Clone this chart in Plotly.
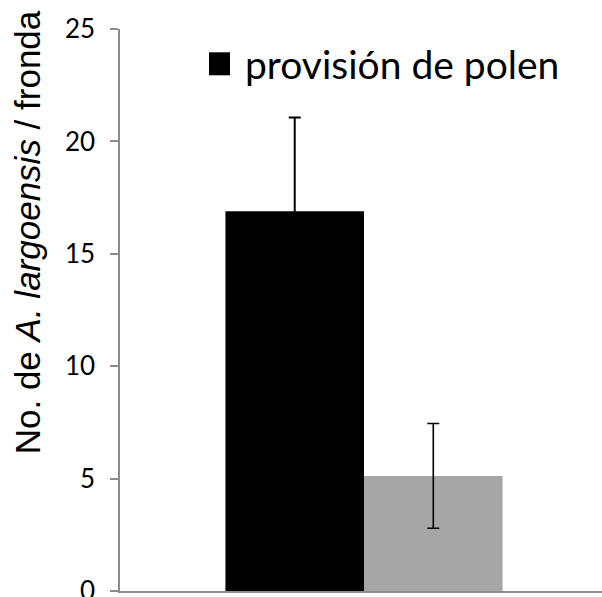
import plotly.graph_objects as go

# Mean number of A. largoensis per frond, with error bars
categories = [""]
pollen_mean = [16.89]
pollen_err = [4.17]
control_mean = [5.12]
control_err = [2.33]
y_ticks = [0, 5, 10, 15, 20, 25]
legend_label = "provisión de polen"
y_title = "No. de <i>A. largoensis</i> / fronda"

W, H = 602, 597
ML, MR, MT, MB = 120, 0, 28.7, 6.3
PW, PH = W - ML - MR, H - MT - MB

axis_grey = "#8c8c8c"
shift = 3 / PW  # category centre sits a little right of the plot centre

fig = go.Figure()
fig.add_trace(go.Bar(
    x=categories, y=pollen_mean, name=legend_label,
    marker=dict(color="#000000", line=dict(width=0)),
    error_y=dict(type="data", array=pollen_err, visible=True,
                 color="#000000", thickness=2, width=6),
    showlegend=False,
))
fig.add_trace(go.Bar(
    x=categories, y=control_mean, name="",
    marker=dict(color="#a6a6a6", line=dict(width=0)),
    error_y=dict(type="data", array=control_err, visible=True,
                 color="#000000", thickness=1.6, width=6),
    showlegend=False,
))

fig.update_layout(
    width=W, height=H,
    margin=dict(l=ML, r=MR, t=MT, b=MB, pad=0),
    paper_bgcolor="white", plot_bgcolor="white",
    barmode="group", bargap=0.425, bargroupgap=0,
    font=dict(family="Lato, Open Sans, sans-serif", color="#000000"),
    xaxis=dict(
        type="category", range=[-0.5 - shift, 0.5 - shift],
        showline=True, linecolor=axis_grey, linewidth=1.5,
        showticklabels=False, ticks="", showgrid=False, zeroline=False,
        automargin=False,
    ),
    yaxis=dict(
        range=[0, 25], tickvals=y_ticks, ticktext=[str(v) for v in y_ticks],
        showline=True, linecolor=axis_grey, linewidth=1.5,
        ticks="outside", ticklen=8, tickcolor=axis_grey, tickwidth=1.5,
        tickfont=dict(size=26, family="Lato, sans-serif", color="#000000"),
        ticklabelstandoff=10, ticklabeloverflow="allow",
        showgrid=False, zeroline=False, automargin=False,
    ),
)

# Legend swatch and label
sq_x0, sq_x1 = 209, 230
sq_y0, sq_y1 = 52, 75
fig.add_shape(
    type="rect", xref="paper", yref="paper",
    x0=(sq_x0 - ML) / PW, x1=(sq_x1 - ML) / PW,
    y0=(H - MB - sq_y1) / PH, y1=(H - MB - sq_y0) / PH,
    fillcolor="#000000", line=dict(width=0),
)
fig.add_annotation(
    text=legend_label, xref="paper", yref="paper",
    x=(243 - ML) / PW, y=(H - MB - 64) / PH,
    xanchor="left", yanchor="middle", showarrow=False,
    font=dict(size=39, family="Lato, sans-serif", color="#000000"),
)

# Vertical axis title
fig.add_annotation(
    text=y_title, xref="paper", yref="paper",
    x=(27 - ML) / PW, y=(H - MB - 232) / PH,
    xanchor="center", yanchor="middle", textangle=-90, showarrow=False,
    font=dict(size=35, family="Liberation Sans, Arial, sans-serif", color="#000000"),
)

fig.write_html("out.html")
